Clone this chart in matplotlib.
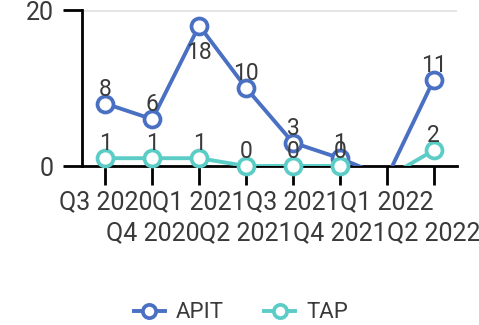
import numpy as np
import matplotlib
matplotlib.use("Agg")
from matplotlib import pyplot as plt
from matplotlib.lines import Line2D

plt.rcParams["font.family"] = ["Roboto", "DejaVu Sans"]

quarters = ["Q3 2020", "Q4 2020", "Q1 2021", "Q2 2021",
            "Q3 2021", "Q4 2021", "Q1 2022", "Q2 2022"]
apit = [8, 6, 18, 10, 3, 1, -1.5, 11]
tap = [1, 1, 1, 0, 0, 0, -1.5, 2]

series = [("APIT", apit, "#4a70c4"), ("TAP", tap, "#5ccdc6")]
TEXT = "#3a3a3a"

fig = plt.figure(figsize=(4.79, 3.25), dpi=100)
ax = fig.add_axes([82 / 479, 1 - 166 / 325, 375 / 479, 156 / 325])

x = np.arange(len(quarters))
for name, vals, color in series:
    vals = np.array(vals, dtype=float)
    ax.plot(x, vals, color=color, lw=2.8, zorder=3)
    # negative values sit under the axis, so only the visible points get markers
    ok = vals >= 0
    ax.plot(x[ok], vals[ok], ls="none", marker="o", ms=11.5, mfc="white",
            mec=color, mew=2.7, clip_on=False, zorder=4)
    for xi, v in zip(x[ok], vals[ok]):
        below = v > 16
        ax.annotate(f"{v:g}", (xi, v), xytext=(0, -24 if below else 5.8),
                    textcoords="offset points", ha="center", va="baseline",
                    fontsize=16.5, color=TEXT, zorder=5, annotation_clip=False)

ax.set_xlim(-0.5, 7.5)
ax.set_ylim(0, 20)
ax.set_yticks([0, 20])
ax.set_xticks(x)
ax.set_xticklabels([q if i % 2 == 0 else "\n" + q for i, q in enumerate(quarters)])
for lab in ax.get_xticklabels():
    lab.set_linespacing(1.35)

ax.axhline(20, color="#e3e3e3", lw=2, zorder=1)
for s in ("top", "right"):
    ax.spines[s].set_visible(False)
for s in ("left", "bottom"):
    ax.spines[s].set_linewidth(2)
ax.tick_params(axis="both", length=13.5, width=2, colors="black",
               labelcolor=TEXT, labelsize=18)
ax.tick_params(axis="x", pad=4)
ax.tick_params(axis="y", pad=7)

handles = [Line2D([], [], color=c, lw=2.8, marker="o", ms=9.5, mfc="white",
                  mec=c, mew=2.7) for _, _, c in series]
fig.legend(handles, [n for n, _, _ in series], loc="center",
           bbox_to_anchor=(0.503, 1 - 313 / 325), ncol=2, frameon=False,
           fontsize=16, handlelength=1.4, handletextpad=0.5,
           columnspacing=1.8, labelcolor=TEXT)

fig.savefig("out.png", dpi=100)
